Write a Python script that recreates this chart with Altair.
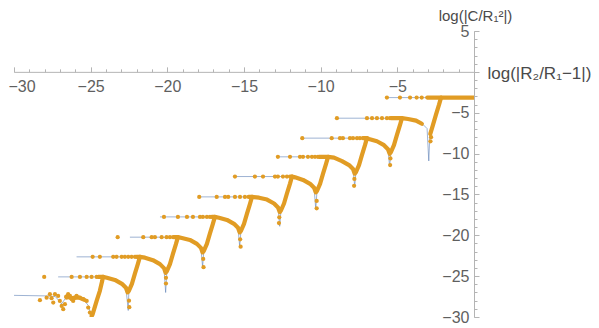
import altair as alt
import pandas as pd

# ---------------- data (data units) ----------------
# thin blue curves: curve k runs along level k, arcs down into a cusp, then climbs to corner k-1
BLUE_X = [
    [-5.68, -2.15, 0.0],
    [-8.94, -4.70, -4.30, -3.78, -3.32, -3.06, -2.95, -2.87, -2.67, -2.48, -2.28, -2.15],
    [-11.20, -6.98, -6.85, -6.33, -5.87, -5.61, -5.50, -5.42, -5.22, -5.03, -4.83, -4.70],
    [-12.79, -9.52, -9.13, -8.61, -8.15, -7.89, -7.78, -7.70, -7.50, -7.31, -7.11, -6.98],
    [-15.59, -11.87, -11.67, -11.15, -10.69, -10.43, -10.32, -10.24, -10.04, -9.85, -9.65, -9.52],
    [-17.92, -14.48, -14.02, -13.50, -13.04, -12.78, -12.67, -12.59, -12.39, -12.20, -12.00, -11.87],
    [-20.48, -16.90, -16.63, -16.11, -15.65, -15.39, -15.28, -15.20, -15.00, -14.81, -14.61, -14.48],
    [-22.44, -19.31, -19.05, -18.53, -18.07, -17.81, -17.70, -17.62, -17.42, -17.23, -17.03, -16.90],
    [-25.92, -21.79, -21.46, -20.94, -20.48, -20.22, -20.11, -20.03, -19.83, -19.64, -19.44, -19.31],
    [-27.12, -24.20, -23.94, -23.42, -22.96, -22.70, -22.55, -22.51, -22.31, -22.12, -21.92, -21.79],
    [-30.0, -27.9, -27.3, -26.9, -26.6, -26.0, -25.5, -25.15, -24.95, -24.88, -24.61, -24.40, -24.25, -24.20],
]
BLUE_Y = [
    [-3.15, -3.15, -3.15],
    [-5.67, -5.67, -5.77, -5.97, -6.45, -6.94, -10.9, -7.31, -6.45, -5.23, -4.01, -3.15],
    [-8.11, -8.11, -8.21, -8.49, -8.97, -9.46, -11.6, -9.83, -8.97, -7.75, -6.53, -5.67],
    [-10.40, -10.40, -10.50, -10.93, -11.41, -11.90, -14.0, -12.27, -11.41, -10.19, -8.97, -8.11],
    [-12.81, -12.81, -12.91, -13.22, -13.70, -14.19, -16.8, -14.56, -13.70, -12.48, -11.26, -10.40],
    [-15.30, -15.30, -15.40, -15.63, -16.11, -16.60, -18.9, -16.97, -16.11, -14.89, -13.67, -12.81],
    [-17.75, -17.75, -17.85, -18.12, -18.60, -19.09, -21.4, -19.46, -18.60, -17.38, -16.16, -15.30],
    [-20.23, -20.23, -20.33, -20.57, -21.05, -21.54, -23.9, -21.91, -21.05, -19.83, -18.61, -17.75],
    [-22.64, -22.64, -22.74, -23.05, -23.53, -24.02, -27.0, -24.39, -23.53, -22.31, -21.09, -20.23],
    [-25.09, -25.09, -25.19, -25.46, -25.94, -26.43, -29.2, -26.80, -25.94, -24.72, -23.50, -22.64],
    [-27.35, -27.42, -27.50, -28.40, -27.60, -27.50, -27.80, -28.60, -30.0, -29.7, -28.03, -26.80, -25.60, -25.09],
]

# densely sampled stretches (the points there merge into a thick orange stroke)
DENSE_X = [
    [-3.05, -2.15, 0.0],
    [-5.40, -4.70, -4.30, -3.78, -3.40],
    [-2.85, -2.67, -2.48, -2.28, -2.15],
    [-7.20, -6.98, -6.85, -6.33, -5.87, -5.61, -5.50, -5.42, -5.22, -5.03, -4.83, -4.70],
    [-10.10, -9.52, -9.13, -8.61, -8.15, -7.89, -7.78, -7.70, -7.50, -7.31, -7.11, -6.98],
    [-12.00, -11.87, -11.67, -11.15, -10.69, -10.43, -10.32, -10.24, -10.04, -9.85, -9.65, -9.52],
    [-14.70, -14.48, -14.02, -13.50, -13.04, -12.78, -12.67, -12.59, -12.39, -12.20, -12.00, -11.87],
    [-17.10, -16.90, -16.63, -16.11, -15.65, -15.39, -15.28, -15.20, -15.00, -14.81, -14.61, -14.48],
    [-19.55, -19.31, -19.05, -18.53, -18.07, -17.81, -17.70, -17.62, -17.42, -17.23, -17.03, -16.90],
    [-22.00, -21.79, -21.46, -20.94, -20.48, -20.22, -20.11, -20.03, -19.83, -19.64, -19.44, -19.31],
    [-24.50, -24.20, -23.94, -23.42, -22.96, -22.70, -22.59, -22.51, -22.31, -22.12, -21.92, -21.79],
    [-24.88, -24.61, -24.40, -24.25, -24.20],
    [-26.6, -26.2, -25.8, -25.4],
]
DENSE_Y = [
    [-3.15, -3.15, -3.15],
    [-5.67, -5.67, -5.77, -5.97, -6.35],
    [-7.60, -6.45, -5.23, -4.01, -3.15],
    [-8.11, -8.11, -8.21, -8.49, -8.97, -9.46, -10.02, -9.83, -8.97, -7.75, -6.53, -5.67],
    [-10.40, -10.40, -10.50, -10.93, -11.41, -11.90, -12.46, -12.27, -11.41, -10.19, -8.97, -8.11],
    [-12.81, -12.81, -12.91, -13.22, -13.70, -14.19, -14.75, -14.56, -13.70, -12.48, -11.26, -10.40],
    [-15.30, -15.30, -15.40, -15.63, -16.11, -16.60, -17.16, -16.97, -16.11, -14.89, -13.67, -12.81],
    [-17.75, -17.75, -17.85, -18.12, -18.60, -19.09, -19.65, -19.46, -18.60, -17.38, -16.16, -15.30],
    [-20.23, -20.23, -20.33, -20.57, -21.05, -21.54, -22.10, -21.91, -21.05, -19.83, -18.61, -17.75],
    [-22.64, -22.64, -22.74, -23.05, -23.53, -24.02, -24.58, -24.39, -23.53, -22.31, -21.09, -20.23],
    [-25.09, -25.09, -25.19, -25.46, -25.94, -26.43, -26.99, -26.80, -25.94, -24.72, -23.50, -22.64],
    [-29.70, -28.03, -26.80, -25.60, -25.09],
    [-27.50, -27.70, -27.60, -27.90],
]

# sparse points along each horizontal level
LEVEL_Y = [-3.15, -5.67, -8.11, -10.40, -12.81, -15.30, -17.75, -20.23, -22.64, -25.09]
LEVEL_DOT_X = [
    [-5.68, -4.83, -4.17, -3.74, -3.41],
    [-8.94, -6.98, -6.65, -6.33, -6.00, -5.68, -5.48],
    [-11.20, -9.28, -8.74, -8.55, -8.09, -7.89, -7.63, -7.44, -7.24],
    [-12.79, -12.00, -11.35, -11.15, -10.83, -10.57, -10.37, -10.18],
    [-15.59, -14.29, -13.76, -12.98, -12.79, -12.46, -12.20],
    [-17.92, -16.78, -16.24, -16.03, -15.59, -15.26, -14.94],
    [-20.22, -19.31, -18.72, -18.33, -17.87, -17.68, -17.42, -17.22],
    [-23.24, -21.57, -21.02, -20.81, -20.37, -20.05, -19.83, -19.62],
    [-24.87, -24.40, -23.53, -23.31, -22.98, -22.77, -22.55, -22.33, -22.11],
    [-28.03, -26.24, -25.70, -25.26, -24.94, -24.61],
]
# sparse points down the cusps
CUSP_X = [-2.80, -2.84, -5.45, -5.47, -7.80, -7.82, -10.26, -10.26, -12.70, -12.72,
          -15.25, -15.22, -17.66, -17.64, -20.09, -20.09, -22.50, -22.48]
CUSP_Y = [-8.0, -8.5, -10.6, -11.4, -13.1, -13.95, -15.8, -16.7, -17.8, -18.5,
          -20.5, -21.4, -22.9, -23.9, -25.2, -25.9, -28.0, -28.8]
# scattered points of the lowest curve
CLUSTER_X = [-28.31, -27.87, -27.66, -27.55, -27.44, -27.33, -27.12, -27.01, -26.89, -26.79, -26.68, -26.57,
             -26.47, -26.35, -26.24, -26.14, -26.03, -25.92, -25.70, -25.48, -25.26, -25.16, -25.05, -24.94]
CLUSTER_Y = [-27.94, -27.63, -27.21, -27.70, -28.24, -27.21, -27.42, -28.03, -28.64, -29.05, -28.43, -27.63,
             -27.21, -27.42, -27.82, -28.03, -27.63, -27.42, -27.63, -27.82, -28.03, -28.85, -29.46, -29.87]

X_MAJOR = [-30, -25, -20, -15, -10, -5]
Y_MAJOR = [5, -5, -10, -15, -20, -25, -30]

# ---------------- tables ----------------
blue_rows = []
for c, (xs_, ys_) in enumerate(zip(BLUE_X, BLUE_Y)):
    for i, (x, y) in enumerate(zip(xs_, ys_)):
        blue_rows.append({"curve": c, "o": i, "x": x, "y": y})
blue_df = pd.DataFrame(blue_rows)

dense_rows = []
for c, (xs_, ys_) in enumerate(zip(DENSE_X, DENSE_Y)):
    for i, (x, y) in enumerate(zip(xs_, ys_)):
        dense_rows.append({"seg": c, "o": i, "x": x, "y": y})
dense_df = pd.DataFrame(dense_rows)

dot_rows = []
for ly, xs_ in zip(LEVEL_Y, LEVEL_DOT_X):
    for x in xs_:
        dot_rows.append({"x": x, "y": ly})
for x, y in zip(CUSP_X + CLUSTER_X, CUSP_Y + CLUSTER_Y):
    dot_rows.append({"x": x, "y": y})
dot_df = pd.DataFrame(dot_rows)

# ---------------- chart ----------------
W, H = 460, 286
YMIN, YMAX = -30, 5
y0 = H * (YMAX - 0) / (YMAX - YMIN)  # pixel row of y = 0

xs = alt.Scale(domain=[-30, 0], nice=False, zero=False)
ys = alt.Scale(domain=[YMIN, YMAX], nice=False, zero=False)

AX = "#b4b4b4"
LAB = "#5f5f5f"
FONT = "Liberation Sans"
ORANGE = "#e19c24"
BLUE = "#5e81b5"

blue = alt.Chart(blue_df).mark_line(color=BLUE, strokeWidth=1, opacity=0.6, clip=True).encode(
    x=alt.X("x:Q", scale=xs, axis=alt.Axis(
        orient="bottom", offset=-(H - y0), values=X_MAJOR, ticks=False, tickSize=0,
        domain=True, domainColor=AX, domainWidth=1, grid=False,
        labelFlush=True, labelFlushOffset=6,
        labelFont=FONT, labelFontSize=16, labelColor=LAB, labelPadding=7,
        title="log(|R₂/R₁−1|)", titleX=W + 13, titleY=2, titleAlign="left",
        titleBaseline="middle", titleAngle=0, titleFont=FONT, titleFontSize=17,
        titleFontWeight="normal", titleColor="#4a4a4a")),
    y=alt.Y("y:Q", scale=ys, axis=alt.Axis(
        orient="left", offset=-W, values=Y_MAJOR, ticks=False, tickSize=0,
        domain=True, domainColor=AX, domainWidth=1, grid=False, labelFlush=False,
        labelFont=FONT, labelFontSize=16, labelColor=LAB, labelPadding=5,
        title="log(|C/R₁²|)", titleX=1, titleY=-16, titleAlign="center",
        titleBaseline="middle", titleAngle=0, titleFont=FONT, titleFontSize=15,
        titleFontWeight="normal", titleColor="#4a4a4a")),
    detail="curve:N",
    order="o:Q",
)

dense = alt.Chart(dense_df).mark_line(color=ORANGE, strokeWidth=4.2, strokeCap="round",
                                      strokeJoin="round", clip=True).encode(
    x=alt.X("x:Q", scale=xs, axis=alt.Axis(
        orient="top", offset=-y0, values=X_MAJOR, ticks=True, tickSize=5, tickColor=AX,
        labels=False, domain=False, grid=False, title=None)),
    y=alt.Y("y:Q", scale=ys, axis=alt.Axis(
        orient="right", offset=0, values=Y_MAJOR + [0], ticks=True, tickSize=5, tickColor=AX,
        labels=False, domain=False, grid=False, title=None)),
    detail="seg:N",
    order="o:Q",
)

dots = alt.Chart(dot_df).mark_circle(color=ORANGE, size=18, opacity=1, clip=True).encode(
    x=alt.X("x:Q", scale=xs, axis=alt.Axis(
        orient="top", offset=-y0, values=list(range(-30, 0)), ticks=True, tickSize=3,
        tickColor=AX, labels=False, domain=False, grid=False, title=None)),
    y=alt.Y("y:Q", scale=ys, axis=alt.Axis(
        orient="right", offset=0, values=list(range(-30, 6)), ticks=True, tickSize=3,
        tickColor=AX, labels=False, domain=False, grid=False, title=None)),
)

chart = alt.layer(blue, dense, dots).resolve_axis(x="independent", y="independent").properties(
    width=W, height=H,
    autosize=alt.AutoSizeParams(type="none"),
    padding={"left": 6, "top": 23, "right": 117, "bottom": 7},
).configure_view(stroke=None)

chart.save("out.html", embed_options={"renderer": "svg", "actions": False})
